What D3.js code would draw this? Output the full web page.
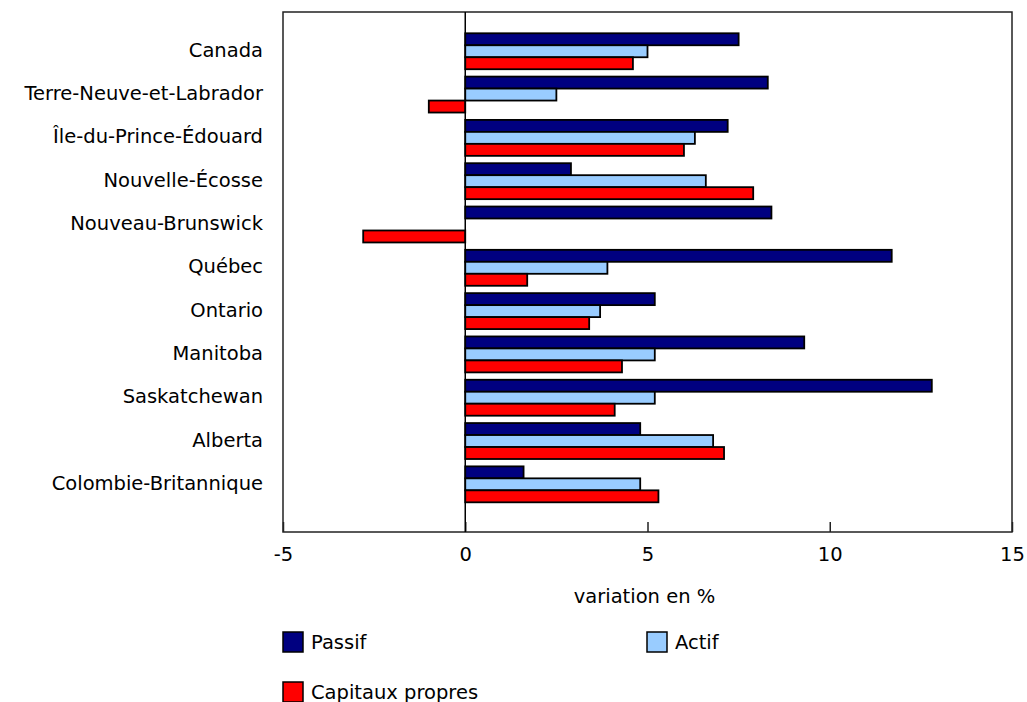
<!DOCTYPE html>
<html>
<head>
<meta charset="utf-8">
<script src="https://cdn.jsdelivr.net/npm/d3@7"></script>
<style>
  body { margin: 0; background: #fff; }
  text { font-family: "DejaVu Sans", Verdana, sans-serif; fill: #000; }
</style>
</head>
<body>
<svg id="chart" width="1027" height="702"></svg>
<script>
// provinces, top to bottom
const provinces = [
  "Canada", "Terre-Neuve-et-Labrador", "Île-du-Prince-Édouard", "Nouvelle-Écosse",
  "Nouveau-Brunswick", "Québec", "Ontario", "Manitoba", "Saskatchewan",
  "Alberta", "Colombie-Britannique"
];
const seriesNames = ["Passif", "Actif", "Capitaux propres"];
const seriesColors = ["#000080", "#99ccff", "#ff0000"];

// variation en %
const passif   = [7.5, 8.3, 7.2, 2.9, 8.4, 11.7, 5.2, 9.3, 12.8, 4.8, 1.6];
const actif    = [5.0, 2.5, 6.3, 6.6, 0.0, 3.9, 3.7, 5.2, 5.2, 6.8, 4.8];
const capitaux = [4.6, -1.0, 6.0, 7.9, -2.8, 1.7, 3.4, 4.3, 4.1, 7.1, 5.3];

const xTicks = [-5, 0, 5, 10, 15];

const plot = {left: 283, right: 1012, top: 12, bottom: 532};
const fontSize = 19.5;

const svg = d3.select("#chart");

const rows = provinces.map((p, i) => ({
  name: p,
  values: [passif[i], actif[i], capitaux[i]]
}));

// SCALES
const x = d3.scaleLinear()
  .domain([-5, 15])
  .range([plot.left, plot.right]);

const y = d3.scaleBand()
  .domain(provinces)
  .range([29.6, 506])
  .paddingInner(0.17)
  .paddingOuter(0.085);

const ySub = d3.scaleBand()
  .domain(seriesNames)
  .range([0, y.bandwidth()]);

// frame
svg.append("rect")
  .attr("x", plot.left)
  .attr("y", plot.top)
  .attr("width", plot.right - plot.left)
  .attr("height", plot.bottom - plot.top)
  .attr("fill", "none")
  .attr("stroke", "#222")
  .attr("stroke-width", 1.5);

// x axis, ticks pointing up
const xAxis = d3.axisBottom(x)
  .tickValues(xTicks)
  .tickSizeInner(-10)
  .tickSizeOuter(0)
  .tickPadding(15)
  .tickFormat(d => String(d)); // plain hyphen for -5

const gx = svg.append("g")
  .attr("transform", `translate(0,${plot.bottom})`)
  .call(xAxis);
gx.select(".domain").remove();
gx.selectAll(".tick line").attr("stroke", "#222").attr("stroke-width", 1.5);
gx.selectAll(".tick text")
  .style("font-size", fontSize + "px")
  .attr("font-family", null);

// BARS
const groups = svg.selectAll(".grp")
  .data(rows)
  .join("g")
  .attr("class", "grp")
  .attr("transform", d => `translate(0,${y(d.name)})`);

groups.selectAll("rect")
  .data(d => d.values.map((v, i) => ({v, s: seriesNames[i], c: seriesColors[i]})))
  .join("rect")
  .filter(d => d.v !== 0)
  .attr("x", d => x(Math.min(0, d.v)))
  .attr("width", d => Math.abs(x(d.v) - x(0)))
  .attr("y", d => ySub(d.s))
  .attr("height", ySub.bandwidth())
  .attr("fill", d => d.c)
  .attr("stroke", "#000")
  .attr("stroke-width", 1.8);

// zero line
svg.append("line")
  .attr("x1", x(0)).attr("x2", x(0))
  .attr("y1", plot.top).attr("y2", plot.bottom)
  .attr("stroke", "#000")
  .attr("stroke-width", 1.5);

// category labels
svg.selectAll(".cat")
  .data(provinces)
  .join("text")
  .attr("class", "cat")
  .attr("x", 263)
  .attr("y", d => y(d) + y.bandwidth() / 2 - 1)
  .attr("text-anchor", "end")
  .attr("dominant-baseline", "central")
  .style("font-size", fontSize + "px")
  .text(d => d);

// axis title
svg.append("text")
  .attr("x", (plot.left + plot.right) / 2 - 3)
  .attr("y", 596)
  .attr("text-anchor", "middle")
  .attr("dominant-baseline", "central")
  .style("font-size", fontSize + "px")
  .text("variation en %");

// LEGEND
const legendPos = [[283, 632], [647, 632], [283, 682]];
const legend = svg.selectAll(".leg")
  .data(seriesNames)
  .join("g")
  .attr("class", "leg")
  .attr("transform", (d, i) => `translate(${legendPos[i][0]},${legendPos[i][1]})`);

legend.append("rect")
  .attr("width", 20)
  .attr("height", 20)
  .attr("fill", (d, i) => seriesColors[i])
  .attr("stroke", "#000")
  .attr("stroke-width", 1.5);

legend.append("text")
  .attr("x", 28)
  .attr("y", 10)
  .attr("dominant-baseline", "central")
  .style("font-size", fontSize + "px")
  .text(d => d);
</script>
</body>
</html>
